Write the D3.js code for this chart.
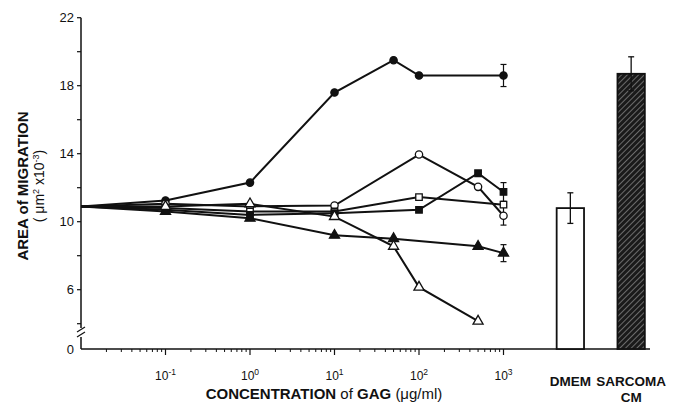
<!DOCTYPE html>
<html><head><meta charset="utf-8">
<script src="https://cdn.jsdelivr.net/npm/d3@7"></script>
<style>body{margin:0;background:#fff}svg{display:block}text{font-family:"Liberation Sans",Arial,sans-serif;fill:#111}</style>
</head><body><svg id="c" width="681" height="407"></svg>
<script>
const concentrations = [0.01, 0.1, 1, 10, 50, 100, 500, 1000];
// values per series (null = no point at that concentration)
const filledCircle  = [10.9, 11.25, 12.3, 17.6, 19.5, 18.6, null, 18.6];
const openCircle    = [10.9, 11.05, 10.9, 10.95, null, 13.95, 12.05, 10.35];
const openSquare    = [10.9, 10.8, 10.6, 10.6, null, 11.45, null, 11.0];
const filledSquare  = [10.9, 10.7, 10.4, 10.5, null, 10.7, 12.85, 11.75];
const filledTriangle= [10.9, 10.6, 10.2, 9.2, 9.0, null, 8.55, 8.15];
const openTriangle  = [10.9, 10.9, 11.05, 10.3, 8.55, 6.15, 4.15, null];
const endErrors = {filledCircle:0.65, openCircle:0.55, openSquare:0.15, filledSquare:0.55, filledTriangle:0.5};
const barCategories = ["DMEM", "SARCOMA"];
const barValues = [10.8, 18.7];
const barErrors = [0.9, 1.0];
const yTickLabels = [6, 10, 14, 18, 22];
const yMinorTicks = [4, 8, 12, 16, 20];
const xTickLabels = ["-1", "0", "1", "2", "3"];

const svg = d3.select("#c");
const x = d3.scaleLog().domain([0.01, 1000]).range([81, 503.5]);
const y = d3.scaleLinear().domain([10, 22]).range([221.7, 17.7]);
const axisY0 = 349;

// pattern for hatched bar
const defs = svg.append("defs");
const pat = defs.append("pattern").attr("id","hatch").attr("patternUnits","userSpaceOnUse")
  .attr("width",4).attr("height",4).attr("patternTransform","rotate(45)");
pat.append("rect").attr("width",4).attr("height",4).attr("fill","#1a1a1a");
pat.append("line").attr("x1",0).attr("y1",0).attr("x2",0).attr("y2",4).attr("stroke","#bbb").attr("stroke-width",1);

// Y axis
const yAxis = svg.append("g");
yAxis.append("line").attr("x1",81).attr("x2",81).attr("y1",y(22)).attr("y2",328).attr("stroke","#111").attr("stroke-width",1.5);
yAxis.append("line").attr("x1",81).attr("x2",81).attr("y1",337).attr("y2",axisY0).attr("stroke","#111").attr("stroke-width",1.5);
// break marks
[[-4,332,4,327],[-4,337,4,332]].forEach(d=>yAxis.append("line").attr("x1",81+d[0]).attr("y1",d[1]).attr("x2",81+d[2]).attr("y2",d[3]).attr("stroke","#111").attr("stroke-width",1.2));
yAxis.selectAll(".yt").data(yTickLabels.concat(yMinorTicks)).join("line")
  .attr("x1",77).attr("x2",81).attr("y1",d=>y(d)).attr("y2",d=>y(d)).attr("stroke","#111").attr("stroke-width",1.2);
yAxis.selectAll(".yl").data(yTickLabels).join("text")
  .attr("x",74).attr("y",d=>y(d)+4.5).attr("text-anchor","end").attr("font-size",13).text(d=>d);
yAxis.append("text").attr("x",74).attr("y",axisY0+4.5).attr("text-anchor","end").attr("font-size",13).text("0");
yAxis.append("text").attr("transform","translate(28,186) rotate(-90)").attr("text-anchor","middle")
  .attr("font-size",15).attr("font-weight","bold").text("AREA of MIGRATION");
const t2 = yAxis.append("text").attr("transform","translate(44,186) rotate(-90)").attr("text-anchor","middle")
  .attr("font-size",14);
t2.append("tspan").text("( \u03bcm");
t2.append("tspan").attr("dy",-5).attr("font-size",9).text("2");
t2.append("tspan").attr("dy",5).text(" x10");
t2.append("tspan").attr("dy",-5).attr("font-size",9).text("-3");
t2.append("tspan").attr("dy",5).text(")");

// X axis
const xa = svg.append("g");
xa.append("line").attr("x1",81).attr("x2",650).attr("y1",axisY0).attr("y2",axisY0).attr("stroke","#111").attr("stroke-width",1.5);
const minor = [];
for (let e=-2;e<3;e++) for (let m=2;m<10;m++) minor.push(m*Math.pow(10,e));
xa.selectAll(".mt").data(minor).join("line").attr("x1",d=>x(d)).attr("x2",d=>x(d)).attr("y1",axisY0).attr("y2",axisY0+3).attr("stroke","#111");
const majors = [0.1,1,10,100,1000];
xa.selectAll(".Mt").data(majors).join("line").attr("x1",d=>x(d)).attr("x2",d=>x(d)).attr("y1",axisY0).attr("y2",axisY0+6).attr("stroke","#111").attr("stroke-width",1.2);
majors.forEach((d,i)=>{
  const t = xa.append("text").attr("x",x(d)).attr("y",axisY0+31).attr("text-anchor","middle").attr("font-size",12);
  t.append("tspan").text("10");
  t.append("tspan").attr("dy",-5).attr("font-size",8.5).text(xTickLabels[i]);
});
const xt = xa.append("text").attr("x",324).attr("y",399).attr("text-anchor","middle").attr("font-size",15).attr("font-weight","bold");
xt.append("tspan").text("CONCENTRATION ");
xt.append("tspan").attr("font-weight","normal").text("of");
xt.append("tspan").text(" GAG ");
xt.append("tspan").attr("font-weight","normal").text("(\u03bcg/ml)");

// series
const series = [
  {name:"filledCircle", vals:filledCircle, shape:"circle", fill:"#111"},
  {name:"openCircle", vals:openCircle, shape:"circle", fill:"#fff"},
  {name:"openSquare", vals:openSquare, shape:"square", fill:"#fff"},
  {name:"filledSquare", vals:filledSquare, shape:"square", fill:"#111"},
  {name:"filledTriangle", vals:filledTriangle, shape:"triangle", fill:"#111"},
  {name:"openTriangle", vals:openTriangle, shape:"triangle", fill:"#fff"}
];
const line = d3.line().x(d=>x(d[0])).y(d=>y(d[1]));
const sym = {circle:d3.symbol().type(d3.symbolCircle).size(42), square:d3.symbol().type(d3.symbolSquare).size(42), triangle:d3.symbol().type(d3.symbolTriangle).size(44)};
series.forEach(s=>{
  const pts = concentrations.map((c,i)=>[c,s.vals[i]]).filter(d=>d[1]!==null);
  svg.append("path").attr("d",line(pts)).attr("fill","none").attr("stroke","#111").attr("stroke-width",2);
});
series.forEach(s=>{
  const pts = concentrations.map((c,i)=>[c,s.vals[i]]).filter(d=>d[1]!==null);
  const last = pts[pts.length-1];
  if (endErrors[s.name] && last[0]===1000) {
    const e = endErrors[s.name];
    const g = svg.append("g").attr("stroke","#111").attr("stroke-width",1.2);
    g.append("line").attr("x1",x(1000)).attr("x2",x(1000)).attr("y1",y(last[1]+e)).attr("y2",y(last[1]-e));
    [e,-e].forEach(v=>g.append("line").attr("x1",x(1000)-3).attr("x2",x(1000)+3).attr("y1",y(last[1]+v)).attr("y2",y(last[1]+v)));
  }
  svg.selectAll(null).data(pts.slice(1)).join("path")
    .attr("d",sym[s.shape]).attr("transform",d=>`translate(${x(d[0])},${y(d[1])})`)
    .attr("fill",s.fill).attr("stroke","#111").attr("stroke-width",1.3);
});

// bars
const xb = d3.scaleBand().domain(barCategories).range([544.5, 657]).paddingInner(0.55).paddingOuter(0.2);
const barY = v=>y(v);
barCategories.forEach((c,i)=>{
  svg.append("rect").attr("x",xb(c)).attr("width",xb.bandwidth()).attr("y",barY(barValues[i])).attr("height",axisY0-barY(barValues[i]))
    .attr("fill", i===0?"#fff":"url(#hatch)").attr("stroke","#111").attr("stroke-width",1.8);
  const cx = xb(c)+xb.bandwidth()/2;
  const g = svg.append("g").attr("stroke","#111").attr("stroke-width",1.3);
  g.append("line").attr("x1",cx).attr("x2",cx).attr("y1",barY(barValues[i]+barErrors[i])).attr("y2",barY(barValues[i]-barErrors[i]));
  [barErrors[i],-barErrors[i]].forEach(v=>g.append("line").attr("x1",cx-3).attr("x2",cx+3).attr("y1",barY(barValues[i]+v)).attr("y2",barY(barValues[i]+v)));
});
svg.append("text").attr("x",xb("DMEM")+xb.bandwidth()/2).attr("y",386).attr("text-anchor","middle").attr("font-size",13.5).attr("font-weight","bold").text("DMEM");
svg.append("text").attr("x",xb("SARCOMA")+xb.bandwidth()/2).attr("y",386).attr("text-anchor","middle").attr("font-size",13.5).attr("font-weight","bold").text("SARCOMA");
svg.append("text").attr("x",xb("SARCOMA")+xb.bandwidth()/2).attr("y",402).attr("text-anchor","middle").attr("font-size",13.5).attr("font-weight","bold").text("CM");
</script></body></html>
